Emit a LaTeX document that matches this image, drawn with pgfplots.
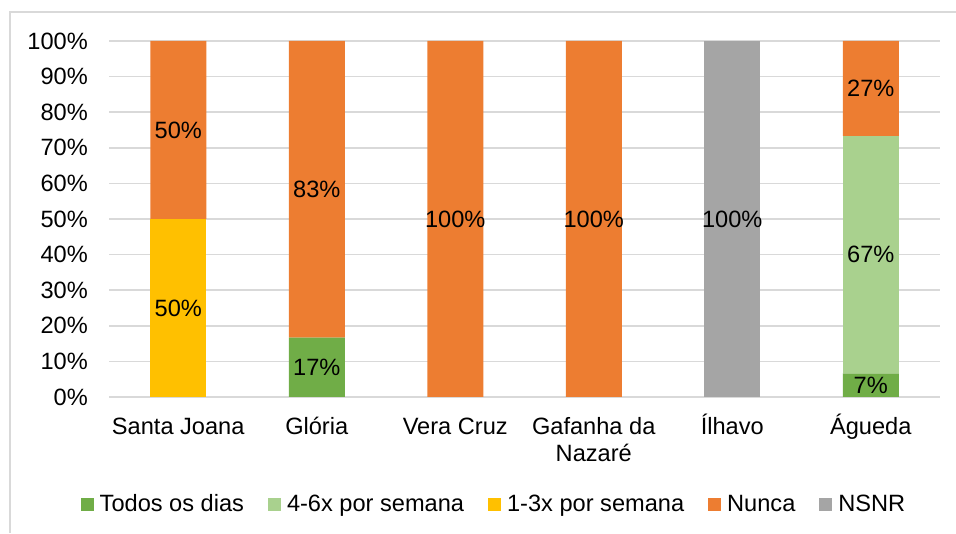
\documentclass[border=0pt]{standalone}
\usepackage{fontspec}
\setmainfont{Liberation Sans}
\usepackage{pgfplots}
\pgfplotsset{compat=1.18}
\definecolor{cTodos}{HTML}{70AD47}
\definecolor{cQuatro}{HTML}{A9D18E}
\definecolor{cUm}{HTML}{FFC000}
\definecolor{cNunca}{HTML}{ED7D31}
\definecolor{cNSNR}{HTML}{A5A5A5}
\definecolor{cGrid}{HTML}{D9D9D9}
\newcommand{\fs}{\fontsize{23.6pt}{27pt}\selectfont}
\newcommand{\st}{\rule{0pt}{23pt}}
\begin{document}
\begin{tikzpicture}
\path[use as bounding box] (0,0) rectangle (956pt,533pt);
\draw[cGrid, line width=1.5pt] (10pt,0pt) -- (10pt,521pt) -- (956pt,521pt);
\begin{axis}[
  at={(109pt,136pt)}, anchor=south west,
  scale only axis, width=831pt, height=356pt,
  ybar stacked, bar width=56pt,
  xmin=-0.5, xmax=5.5, ymin=0, ymax=100,
  xtick={0,1,2,3,4,5},
  xticklabels={\st Santa Joana,\st Glória,\st Vera Cruz,\st Gafanha da\\Nazaré,\st Ílhavo,\st Águeda},
  ytick={0,10,...,100},
  yticklabels={0\%,10\%,20\%,30\%,40\%,50\%,60\%,70\%,80\%,90\%,100\%},
  axis x line*=bottom, axis y line*=left,
  x axis line style={cGrid, line width=1.5pt},
  y axis line style={draw=none},
  ymajorgrids, grid style={cGrid, line width=1.5pt},
  major tick length=0pt,
  tick style={draw=none},
  every tick label/.append style={font=\fs, text=black},
  yticklabel style={anchor=east, inner sep=0pt, xshift=-21pt},
  xticklabel style={anchor=north, inner sep=0pt, yshift=-14pt, align=center},
  legend columns=-1,
  legend style={at={(0.4621,-0.3045)}, anchor=center, draw=none, fill=none,
    font=\fs, inner sep=0pt, nodes={inner sep=0pt, text height=18pt, text depth=5pt},
    /tikz/every odd column/.append style={column sep=6pt},
    /tikz/every even column/.append style={column sep=24pt}},
  legend image code/.code={\fill[#1] (0pt,-5.5pt) rectangle (13pt,7.5pt);},
]
\addplot[fill=cTodos, draw=none] coordinates {(0,0) (1,16.67) (2,0) (3,0) (4,0) (5,6.67)};
\addlegendentry{Todos os dias}
\addplot[fill=cQuatro, draw=none] coordinates {(0,0) (1,0) (2,0) (3,0) (4,0) (5,66.67)};
\addlegendentry{4-6x por semana}
\addplot[fill=cUm, draw=none] coordinates {(0,50) (1,0) (2,0) (3,0) (4,0) (5,0)};
\addlegendentry{1-3x por semana}
\addplot[fill=cNunca, draw=none] coordinates {(0,50) (1,83.33) (2,100) (3,100) (4,0) (5,26.67)};
\addlegendentry{Nunca}
\addplot[fill=cNSNR, draw=none] coordinates {(0,0) (1,0) (2,0) (3,0) (4,100) (5,0)};
\addlegendentry{NSNR}
\end{axis}
\begin{axis}[
  at={(109pt,136pt)}, anchor=south west,
  scale only axis, width=831pt, height=356pt,
  xmin=-0.5, xmax=5.5, ymin=0, ymax=100,
  hide axis,
]
\addplot[only marks, mark=none, nodes near coords, point meta=explicit symbolic,
  nodes near coords style={anchor=center, font=\fs, text=black, inner sep=0pt}]
  coordinates {
  (0,25) [50\%] (0,75) [50\%]
  (1,8.33) [17\%] (1,58.33) [83\%]
  (2,50) [100\%] (3,50) [100\%] (4,50) [100\%]
  (5,3.33) [7\%] (5,40) [67\%] (5,86.67) [27\%]
  };
\end{axis}
\end{tikzpicture}
\end{document}
